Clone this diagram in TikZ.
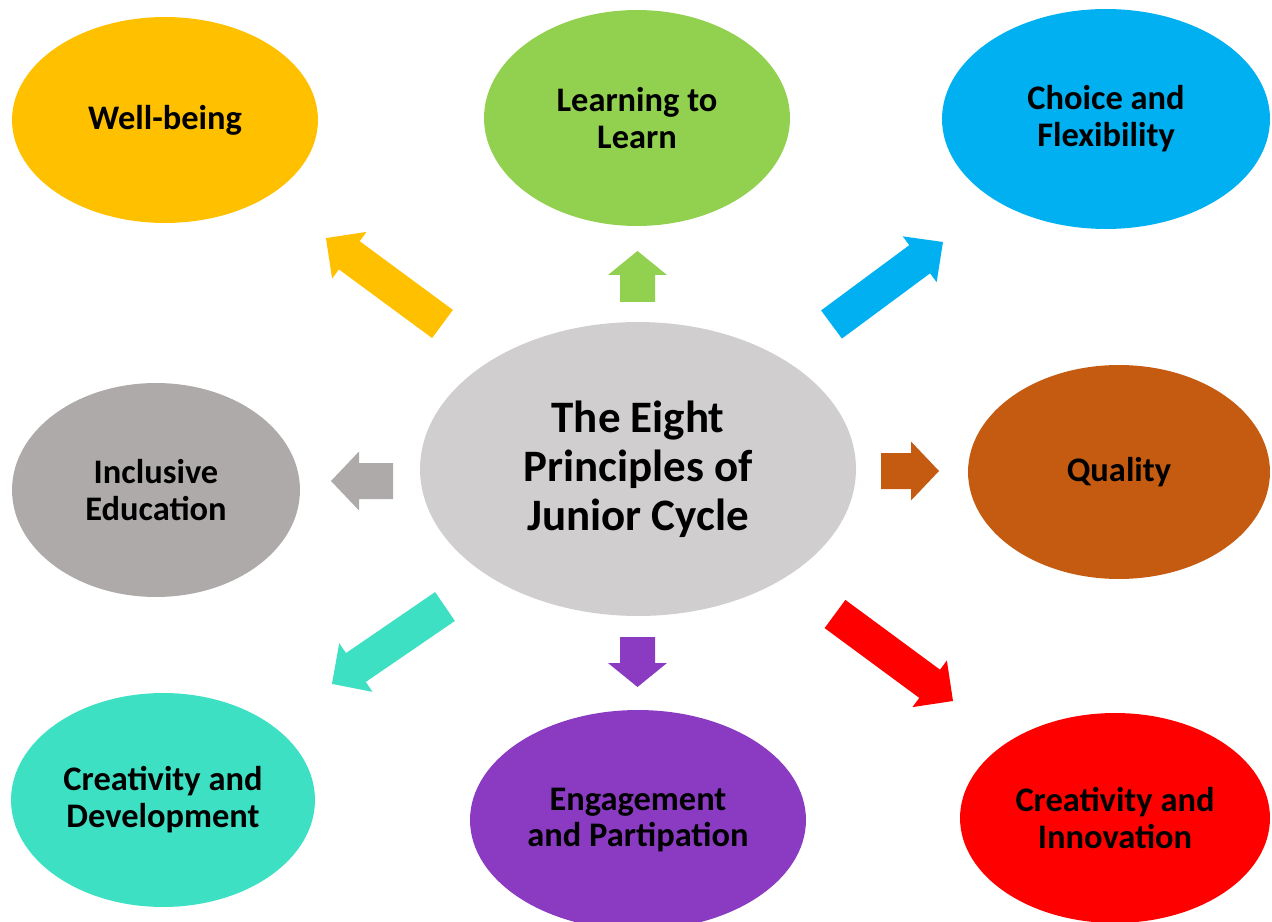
\documentclass[tikz,border=0pt]{standalone}
\usepackage{fontspec}
\setmainfont{Carlito}
\usetikzlibrary{shapes.geometric}
\definecolor{cyellow}{HTML}{FFC000}
\definecolor{cgreen}{HTML}{92D050}
\definecolor{cblue}{HTML}{00B0F0}
\definecolor{ccentral}{HTML}{D0CECE}
\definecolor{cgray}{HTML}{AEAAAA}
\definecolor{corange}{HTML}{C55A11}
\definecolor{cteal}{HTML}{3EE0C4}
\definecolor{cpurple}{HTML}{8A3BC2}
\definecolor{cred}{HTML}{FF0000}
% color, x, y, angle, length, shaft width, head width, head length
\newcommand\blockarrow[8]{%
  \begin{scope}[shift={(#2,#3)},rotate=#4]
    \fill[#1] (0,{-#6/2}) -- ({#5-#8},{-#6/2}) -- ({#5-#8},{-#7/2}) -- (#5,0)
      -- ({#5-#8},{#7/2}) -- ({#5-#8},{#6/2}) -- (0,{#6/2}) -- cycle;
  \end{scope}}
\tikzset{
  bubble/.style={ellipse, draw=none, inner sep=0pt, align=center,
    font=\bfseries\fontsize{19.6}{21}\selectfont},
}
\begin{document}
\begin{tikzpicture}[x=0.02cm,y=-0.02cm]
\useasboundingbox (0,0) rectangle (1272,922);
\clip (0,0) rectangle (1272,922);
\node[bubble, fill=cyellow, minimum width=6.12cm, minimum height=4.12cm] (well) at (165,120) {Well-being};
\node[bubble, fill=cgreen, minimum width=6.12cm, minimum height=4.32cm] (learn) at (637,118) {Learning to\\Learn};
\node[bubble, fill=cblue, minimum width=6.56cm, minimum height=4.4cm] (choice) at (1106,119) {Choice and\\Flexibility};
\node[bubble, fill=ccentral, minimum width=8.72cm, minimum height=5.88cm,
  font=\bfseries\fontsize{25.6}{27.8}\selectfont] (center) at (638,469) {The Eight\\Principles of\\Junior Cycle};
\node[bubble, fill=cgray, minimum width=5.76cm, minimum height=4.28cm] (incl) at (156,490) {Inclusive\\Education};
\node[bubble, fill=corange, minimum width=6.04cm, minimum height=4.28cm] (quality) at (1119,472) {Quality};
\node[bubble, fill=cteal, minimum width=6.08cm, minimum height=4.28cm] (cdev) at (163,800) {Creativity and\\Development};
\node[bubble, fill=cpurple, minimum width=6.72cm, minimum height=4.4cm] (engage) at (638,820) {Engagement\\and Partipation};
\node[bubble, fill=cred, minimum width=6.2cm, minimum height=4.2cm] (cinnov) at (1115,818) {Creativity and\\Innovation};
% block arrows
\blockarrow{cgreen}{637.5}{302}{90}{51}{35}{59}{24}
\blockarrow{cpurple}{637.5}{637}{-90}{50}{35}{59}{24}
\blockarrow{cgray}{393}{481}{180}{62}{36}{59}{28}
\blockarrow{corange}{881}{471}{0}{58}{36}{59}{28}
\blockarrow{cyellow}{442.5}{324}{143.6}{144.8}{35}{58}{29}
\blockarrow{cblue}{831.5}{324.5}{36.5}{138.7}{35}{57}{29}
\blockarrow{cteal}{445}{606.5}{214.4}{137}{35}{59}{29}
\blockarrow{cred}{835}{614}{-36.4}{146.6}{35}{58}{29}
\end{tikzpicture}
\end{document}
